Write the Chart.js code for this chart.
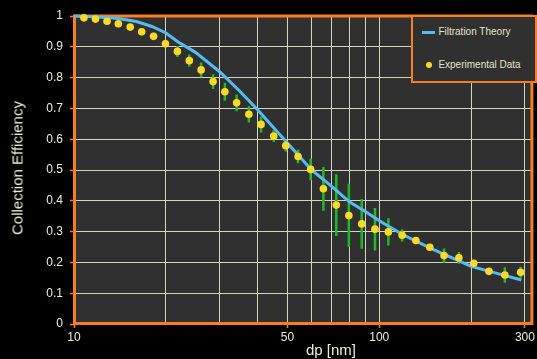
<!DOCTYPE html>
<html><head><meta charset="utf-8">
<script src="https://cdn.jsdelivr.net/npm/chart.js@4/dist/chart.umd.min.js"></script>
<style>
html,body{margin:0;padding:0;background:#000;}
#wrap{position:relative;width:537px;height:359px;overflow:hidden;background:#000;}
#c{position:absolute;left:0;top:0;}
.t{position:absolute;font-family:"Liberation Sans",Arial,sans-serif;color:#efeed2;white-space:nowrap;line-height:17px;}
#ytitle{left:17px;top:167.5px;font-size:15px;transform:translate(-50%,-50%) rotate(-90deg);}
#xtitle{left:331px;top:341px;font-size:15px;transform:translateX(-50%);}
#legend{position:absolute;left:411px;top:15px;width:126px;height:68px;box-sizing:border-box;border:2.6px solid #fb7d22;background:#303030;}
.li{position:absolute;font-family:"Liberation Sans",Arial,sans-serif;font-size:10px;color:#e4e3cc;white-space:nowrap;line-height:12px;}
.sw{position:absolute;}
</style></head><body>
<div id="wrap">
<canvas id="c" width="537" height="359"></canvas>
<div id="ytitle" class="t">Collection Efficiency</div>
<div id="xtitle" class="t">dp [nm]</div>
<div id="legend"></div>
</div>
<script>
// ---- data ----
const particleSizes = [10.78, 11.76, 12.83, 13.97, 15.28, 16.66, 18.23, 19.93, 21.81, 23.86,
  26.09, 28.55, 31.2, 34.1, 37.4, 41.0, 45.1, 49.4, 54.2, 59.6,
  65.6, 72.3, 79.5, 87.6, 96.8, 107.1, 118.8, 131.8, 146.4, 163.0,
  182.3, 203.9, 228.7, 257.8, 290.5];
const experimentalValues = [0.994, 0.990, 0.983, 0.975, 0.964, 0.949, 0.934, 0.910, 0.885, 0.855,
  0.825, 0.787, 0.754, 0.718, 0.681, 0.648, 0.610, 0.579, 0.544, 0.502,
  0.439, 0.386, 0.352, 0.325, 0.308, 0.299, 0.288, 0.271, 0.249, 0.222,
  0.215, 0.197, 0.171, 0.159, 0.168];
const experimentalErrors = [0, 0, 0, 0, 0, 0.012, 0.012, 0.012, 0.018, 0.02,
  0.024, 0.024, 0.029, 0.027, 0.027, 0.026, 0.019, 0.019, 0.022, 0.035,
  0.071, 0.10, 0.103, 0.081, 0.069, 0.044, 0.02, 0, 0, 0.023,
  0.019, 0, 0, 0.025, 0.018];
const theorySizes = [10, 12, 14, 16, 18, 20, 22, 25, 30, 35, 40, 50, 60, 70, 80, 90, 100, 120, 150, 200, 250, 292];
const theoryValues = [1.0, 0.997, 0.992, 0.982, 0.966, 0.945, 0.915, 0.882, 0.819, 0.755, 0.695, 0.588, 0.50, 0.446, 0.396, 0.365, 0.335, 0.289, 0.242, 0.187, 0.161, 0.143];
const xGridValues = [10, 20, 30, 40, 50, 60, 70, 80, 90, 100, 200, 300];
const xTickLabels = [10, 50, 100, 300];
const yTickValues = [0, 0.1, 0.2, 0.3, 0.4, 0.5, 0.6, 0.7, 0.8, 0.9, 1];
const seriesNames = ['Filtration Theory', 'Experimental Data'];

// ---- styles ----
const ORANGE = '#fb7d22', BLUE = '#56bbf0', YELLOW = '#ffd928', GREEN = '#1eb82a';
const TEXT = '#efeed2', GRID = '#d6d5bd', PLOTBG = '#303030';
const FONT = '"Liberation Sans", Arial, sans-serif';

const errorData = [];
particleSizes.forEach((d, i) => {
  const e = experimentalErrors[i];
  if (e > 0) {
    errorData.push({x: d, y: experimentalValues[i] - e});
    errorData.push({x: d, y: experimentalValues[i] + e});
    errorData.push({x: d, y: null});
  }
});

const framePlugin = {
  id: 'frame',
  beforeDraw(chart) {
    const {ctx, chartArea: a} = chart;
    ctx.save();
    ctx.fillStyle = PLOTBG;
    ctx.fillRect(a.left, a.top, a.right - a.left, a.bottom - a.top);
    ctx.restore();
  },
  beforeDatasetsDraw(chart) {
    const {ctx, chartArea: a} = chart;
    ctx.save();
    ctx.strokeStyle = ORANGE;
    ctx.lineWidth = 3;
    ctx.strokeRect(a.left + 0.5, a.top, a.right - a.left, a.bottom - a.top - 0.5);
    ctx.restore();
  }
};

const chart = new Chart(document.getElementById('c'), {
  type: 'line',
  data: {
    datasets: [
      {
        label: 'errors', data: errorData, borderColor: GREEN, borderWidth: 2.5,
        pointRadius: 0, spanGaps: false, order: 3, clip: false, borderCapStyle: 'butt'
      },
      {
        label: seriesNames[0], data: theorySizes.map((d, i) => ({x: d, y: theoryValues[i]})),
        borderColor: BLUE, borderWidth: 3, pointRadius: 0, tension: 0, order: 2, clip: false
      },
      {
        label: seriesNames[1], data: particleSizes.map((d, i) => ({x: d, y: experimentalValues[i]})),
        showLine: false, pointRadius: 3.8, pointBackgroundColor: YELLOW, pointBorderWidth: 0,
        borderColor: YELLOW, order: 1, clip: false
      }
    ]
  },
  options: {
    responsive: false, animation: false, devicePixelRatio: 1,
    layout: {padding: {top: 16, right: 2, left: 0, bottom: 0}},
    plugins: {legend: {display: false}, tooltip: {enabled: false}},
    scales: {
      x: {
        type: 'logarithmic', min: 10, max: 315,
        afterFit(s) { s.height = 35; },
        afterBuildTicks(s) { s.ticks = xGridValues.map(v => ({value: v})); },
        border: {display: false},
        grid: {
          color: c => (c.tick && c.tick.value === 10) ? 'rgba(0,0,0,0)' : GRID,
          lineWidth: 1, drawTicks: true, tickLength: 4,
          tickColor: c => (c.tick && xTickLabels.includes(c.tick.value)) ? ORANGE : 'rgba(0,0,0,0)',
          tickWidth: 1.5
        },
        ticks: {
          autoSkip: false, maxRotation: 0, minRotation: 0, padding: 2,
          color: TEXT, font: {family: FONT, size: 12},
          callback: v => xTickLabels.includes(v) ? String(v) : ''
        }
      },
      y: {
        type: 'linear', min: 0, max: 1,
        afterFit(s) { s.width = 74; },
        afterBuildTicks(s) { s.ticks = yTickValues.map(v => ({value: v})); },
        border: {display: false},
        grid: {
          color: c => (c.tick && (c.tick.value === 0 || c.tick.value === 1)) ? 'rgba(0,0,0,0)' : GRID,
          lineWidth: 1, drawTicks: true, tickLength: 4, tickColor: ORANGE, tickWidth: 1.5
        },
        ticks: {
          padding: 7, color: TEXT, font: {family: FONT, size: 12},
          callback: v => String(+v.toFixed(1))
        }
      }
    }
  },
  plugins: [framePlugin]
});

// ---- HTML legend built from the datasets ----
const legend = document.getElementById('legend');
const ds = chart.data.datasets;
const items = [
  {name: ds[1].label, color: ds[1].borderColor, kind: 'line', y: 32.7},
  {name: ds[2].label, color: ds[2].pointBackgroundColor, kind: 'dot', y: 65.7}
];
items.forEach(it => {
  const top = it.y - 15 - 2.6;
  const sw = document.createElement('div');
  sw.className = 'sw';
  if (it.kind === 'line') {
    sw.style.cssText = `left:${422.7 - 411 - 2.6}px;top:${top - 1.5}px;width:12.6px;height:3px;background:${it.color};`;
  } else {
    sw.style.cssText = `left:${429.3 - 411 - 2.6 - 3.2}px;top:${top - 3.2}px;width:6.4px;height:6.4px;border-radius:50%;background:${it.color};`;
  }
  legend.appendChild(sw);
  const tx = document.createElement('div');
  tx.className = 'li';
  tx.textContent = it.name;
  tx.style.left = (439 - 411 - 2.6) + 'px';
  tx.style.top = (top - 6) + 'px';
  legend.appendChild(tx);
});
</script>
</body></html>
